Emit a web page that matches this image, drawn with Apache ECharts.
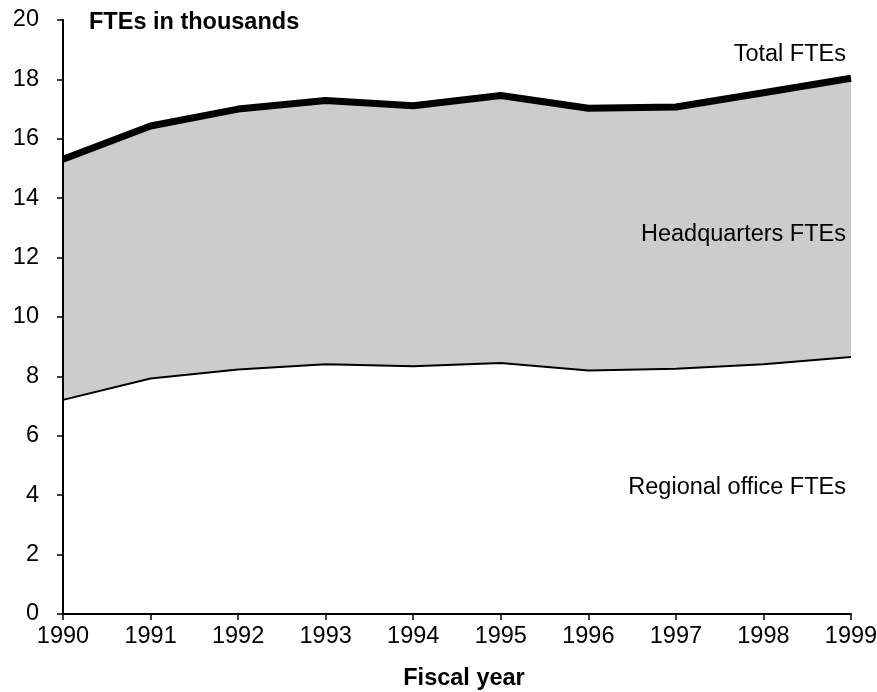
<!DOCTYPE html>
<html>
<head>
<meta charset="utf-8">
<script src="https://cdn.jsdelivr.net/npm/echarts@6/dist/echarts.min.js"></script>
<style>
  html, body { margin: 0; padding: 0; background: #fff; }
  #chart { width: 877px; height: 692px; }
</style>
</head>
<body>
<div id="chart"></div>
<script>
// fiscal years on the x axis
const years = ['1990', '1991', '1992', '1993', '1994', '1995', '1996', '1997', '1998', '1999']
// FTEs in thousands
const totalFtes = [15.31, 16.43, 17.0, 17.29, 17.11, 17.46, 17.03, 17.07, 17.55, 18.04]
const regionalFtes = [7.21, 7.93, 8.23, 8.41, 8.34, 8.45, 8.2, 8.26, 8.41, 8.65]

const font = 'Liberation Sans, Arial, sans-serif'
const fs = 23.5

const myChart = echarts.init(document.getElementById('chart'), null, { renderer: 'canvas' })

// text labels placed on the chart (right aligned, vertically centred)
function label(text, x, y, bold, align) {
  return {
    type: 'text', x: x, y: y, z: 20,
    style: {
      text: text, fontSize: fs, fontFamily: font, fill: '#000',
      fontWeight: bold ? 'bold' : 'normal',
      align: align || 'right', verticalAlign: 'middle',
    },
  }
}

const option = {
  animation: false,
  backgroundColor: '#fff',
  grid: { left: 63, right: 26, top: 20, bottom: 78, outerBoundsMode: 'none', containLabel: false },
  xAxis: {
    type: 'category',
    data: years,
    boundaryGap: false,
    z: 10,
    axisLine: { lineStyle: { color: '#000', width: 2 } },
    axisTick: { show: true, length: 6, lineStyle: { color: '#000', width: 1.5 } },
    axisLabel: { color: '#000', fontSize: fs, fontFamily: font, margin: 11 },
    splitLine: { show: false },
  },
  yAxis: {
    type: 'value',
    min: 0,
    max: 20,
    interval: 2,
    z: 10,
    axisLine: { show: true, lineStyle: { color: '#000', width: 2 } },
    axisTick: { show: true, length: 6, lineStyle: { color: '#000', width: 1.5 } },
    axisLabel: { color: '#000', fontSize: fs, fontFamily: font, margin: 24 },
    splitLine: { show: false },
  },
  series: [
    {
      name: 'Total FTEs',
      type: 'line',
      data: totalFtes,
      symbol: 'none',
      z: 2,
      lineStyle: { color: '#000', width: 7 },
      areaStyle: { color: '#cccccc', opacity: 1 },
    },
    {
      name: 'Regional office FTEs',
      type: 'line',
      data: regionalFtes,
      symbol: 'none',
      z: 3,
      lineStyle: { color: '#000', width: 2 },
      areaStyle: { color: '#ffffff', opacity: 1 },
    },
  ],
  graphic: [
    label('FTEs in thousands', 89, 23, true, 'left'),
    label('Total FTEs', 846, 55),
    label('Headquarters FTEs', 846, 235),
    label('Regional office FTEs', 846, 488),
    label('Fiscal year', 464, 679, true, 'center'),
  ],
}

myChart.setOption(option)
</script>
</body>
</html>
